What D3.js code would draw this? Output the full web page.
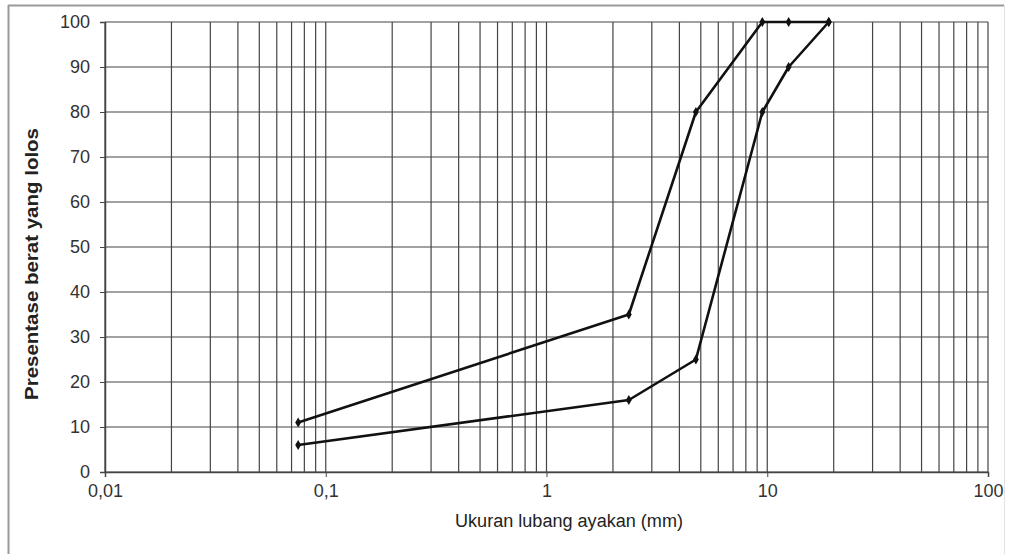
<!DOCTYPE html>
<html lang="en">
<head>
    <meta charset="UTF-8">
    <title>Gradasi agregat</title>
    <script src="https://cdnjs.cloudflare.com/ajax/libs/d3/7.8.5/d3.min.js"></script>
    <style>
        body { margin: 0; background: #fff; }
        svg { display: block; font-family: Arial, "Liberation Sans", sans-serif; }
    </style>
</head>
<body>
    <svg width="1010" height="554"></svg>
    <script>
// sieve sizes (mm) and percent passing
const sieveSizes = [0.075, 2.36, 4.75, 9.5, 12.5, 19];
const upperPassing = [11, 35, 80, 100, 100, 100];
const lowerPassing = [6, 16, 25, 80, 90, 100];
const xTickValues = [0.01, 0.1, 1, 10, 100];
const xTickLabels = ["0,01", "0,1", "1", "10", "100"];
const yTickValues = [0, 10, 20, 30, 40, 50, 60, 70, 80, 90, 100];

const svg = d3.select("svg");
const margin = { left: 105, right: 22, top: 22, bottom: 82 };
const width = 1010, height = 554;
const narrow = "'Liberation Sans Narrow', 'Arial Narrow', Arial, sans-serif";

const x = d3.scaleLog().domain([0.01, 100]).range([margin.left, width - margin.right]);
const y = d3.scaleLinear().domain([0, 100]).range([height - margin.bottom, margin.top]);

// outer frame (top/left darker, right faint)
svg.append("line").attr("x1", 8).attr("x2", 1004).attr("y1", 5.5).attr("y2", 5.5)
    .attr("stroke", "#999").attr("stroke-width", 2);
svg.append("line").attr("x1", 8.5).attr("x2", 8.5).attr("y1", 5).attr("y2", 554)
    .attr("stroke", "#999").attr("stroke-width", 2);
svg.append("line").attr("x1", 1004.5).attr("x2", 1004.5).attr("y1", 5).attr("y2", 554)
    .attr("stroke", "#e2e2e2").attr("stroke-width", 1);

// vertical grid: every 1..9 in each decade
const minorTicks = [];
for (let d = -2; d < 2; d++) {
    for (let k = 1; k < 10; k++) minorTicks.push(k * Math.pow(10, d));
}
minorTicks.push(100);

svg.append("g")
    .selectAll("line")
    .data(minorTicks)
    .join("line")
    .attr("x1", d => x(d)).attr("x2", d => x(d))
    .attr("y1", y(100)).attr("y2", y(0))
    .attr("stroke", "#444")
    .attr("stroke-width", 1.2);

// horizontal grid
svg.append("g")
    .selectAll("line")
    .data(yTickValues)
    .join("line")
    .attr("x1", x(0.01)).attr("x2", x(100))
    .attr("y1", d => y(d)).attr("y2", d => y(d))
    .attr("stroke", "#444")
    .attr("stroke-width", 1.2);

// y axis
const yAxis = svg.append("g")
    .attr("transform", `translate(${margin.left},0)`)
    .call(d3.axisLeft(y).tickValues(yTickValues).tickSize(5).tickPadding(10));
yAxis.select(".domain").attr("stroke", "#444").attr("stroke-width", 1.5);
yAxis.selectAll(".tick line").attr("stroke", "#444");
yAxis.selectAll("text").attr("font-size", 18).attr("fill", "#333")
    .attr("font-family", narrow);

// x axis
const xAxis = svg.append("g")
    .attr("transform", `translate(0,${y(0)})`)
    .call(d3.axisBottom(x).tickValues(xTickValues)
        .tickFormat((d, i) => xTickLabels[i]).tickSize(5).tickPadding(7));
xAxis.select(".domain").attr("stroke", "#444").attr("stroke-width", 1.5);
xAxis.selectAll(".tick line").attr("stroke", "#444");
xAxis.selectAll("text").attr("font-size", 18).attr("fill", "#333")
    .attr("font-family", narrow);

// axis titles
svg.append("text")
    .attr("x", 569).attr("y", 527)
    .attr("text-anchor", "middle")
    .attr("font-size", 18)
    .attr("font-family", narrow)
    .attr("fill", "#222")
    .attr("textLength", 228)
    .attr("lengthAdjust", "spacingAndGlyphs")
    .text("Ukuran lubang ayakan (mm)");

svg.append("text")
    .attr("transform", "translate(38,264) rotate(-90)")
    .attr("text-anchor", "middle")
    .attr("font-size", 18)
    .attr("font-weight", "bold")
    .attr("font-family", narrow)
    .attr("fill", "#222")
    .attr("textLength", 272)
    .attr("lengthAdjust", "spacingAndGlyphs")
    .text("Presentase berat yang lolos");

// curves
const line = d3.line().x(d => x(d[0])).y(d => y(d[1]));
const series = [
    sieveSizes.map((s, i) => [s, upperPassing[i]]),
    sieveSizes.map((s, i) => [s, lowerPassing[i]])
];

series.forEach(pts => {
    svg.append("path")
        .datum(pts)
        .attr("d", line)
        .attr("fill", "none")
        .attr("stroke", "#111")
        .attr("stroke-width", 2.6)
        .attr("stroke-linejoin", "round");

    svg.append("g")
        .selectAll("path")
        .data(pts)
        .join("path")
        .attr("transform", d => `translate(${x(d[0])},${y(d[1])})`)
        .attr("d", d3.symbol(d3.symbolDiamond, 30))
        .attr("fill", "#111");
});
    </script>
</body>
</html>
